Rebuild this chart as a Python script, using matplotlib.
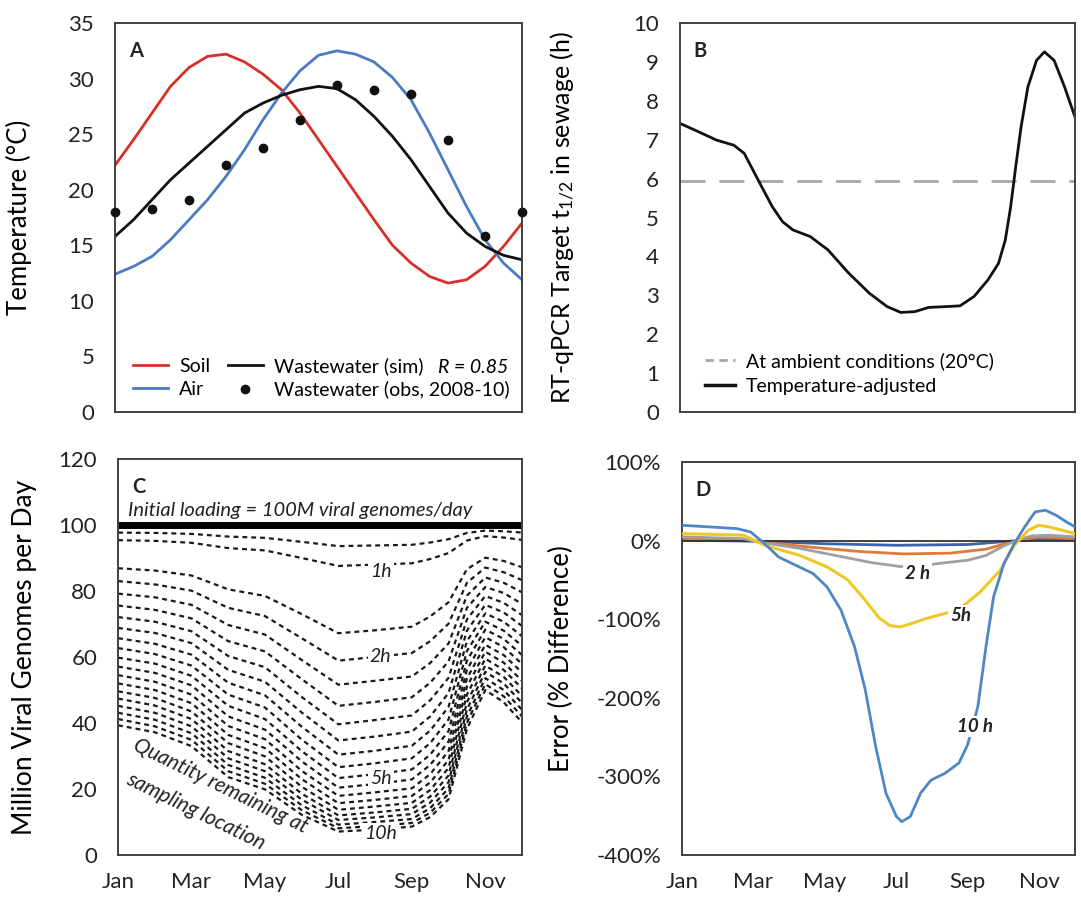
import numpy as np
import matplotlib
matplotlib.use("Agg")
import matplotlib.pyplot as plt
from matplotlib.lines import Line2D

plt.rcParams["font.family"] = ["Lato", "DejaVu Sans"]
plt.rcParams["mathtext.fontset"] = "custom"
plt.rcParams["mathtext.rm"] = "Lato"
plt.rcParams["mathtext.it"] = "Lato:italic"

month_labels = ["Jan", "Mar", "May", "Jul", "Sep", "Nov"]
month_ticks = [0, 2, 4, 6, 8, 10]

# ---- panel A: temperatures (deg C), half-month steps from Jan ----
a_months = np.arange(0, 11.01, 0.5)
soil = [22.2, 24.5, 26.9, 29.3, 31.0, 32.0, 32.2, 31.5, 30.4, 29.0, 26.9, 24.5,
        22.1, 19.7, 17.3, 15.0, 13.4, 12.2, 11.6, 11.9, 13.1, 14.9, 17.0]
air = [12.4, 13.1, 14.0, 15.5, 17.3, 19.1, 21.2, 23.6, 26.3, 28.7, 30.7, 32.1,
       32.5, 32.2, 31.5, 30.1, 28.1, 25.1, 21.8, 18.5, 15.5, 13.4, 11.9]
ww_sim = [15.8, 17.3, 19.1, 20.9, 22.4, 23.9, 25.4, 26.9, 27.8, 28.5, 29.0, 29.3,
          29.1, 28.1, 26.6, 24.8, 22.7, 20.3, 17.9, 16.1, 14.9, 14.1, 13.7]
obs_months = np.arange(0, 12)
ww_obs = [18.0, 18.3, 19.1, 22.2, 23.8, 26.3, 29.4, 29.0, 28.6, 24.5, 15.8, 18.0]

# ---- panel B: half-life (h) ----
b_months = [0, 0.53, 1.02, 1.5, 1.79, 2.18, 2.57, 2.86, 3.15, 3.63, 4.12, 4.7,
            5.28, 5.77, 6.15, 6.54, 6.93, 7.41, 7.8, 8.19, 8.58, 8.87, 9.06,
            9.21, 9.35, 9.5, 9.69, 9.93, 10.15, 10.42, 10.71, 11.0]
b_half = [7.42, 7.2, 6.99, 6.86, 6.65, 5.96, 5.28, 4.89, 4.68, 4.51, 4.17, 3.57,
          3.05, 2.71, 2.56, 2.58, 2.69, 2.71, 2.73, 2.97, 3.4, 3.82, 4.42,
          5.28, 6.3, 7.33, 8.36, 9.04, 9.26, 9.04, 8.36, 7.59]
b_ambient = 5.93

# ---- panel C: million genomes/day remaining, one row per travel time ----
c_months = [0, 1, 2, 3, 4, 5, 6, 7, 8, 8.5, 9, 9.5, 10, 10.5, 11]
c_curves = [
    [97.7, 97.6, 97.3, 96.5, 96.1, 94.9, 93.6, 93.8, 94.0, 94.7, 95.7, 97.6, 98.3, 98.1, 97.7],
    [95.4, 95.2, 94.6, 93.0, 92.3, 90.0, 87.6, 88.0, 88.4, 89.7, 91.5, 95.3, 96.6, 96.2, 95.5],
    [86.9, 86.2, 84.7, 80.5, 78.5, 73.0, 67.2, 68.1, 69.2, 72.3, 76.6, 86.6, 90.1, 89.1, 87.2],
    [83.0, 82.0, 80.1, 74.9, 72.4, 65.7, 58.9, 60.0, 61.2, 64.8, 70.1, 82.5, 87.1, 85.7, 83.3],
    [79.2, 78.1, 75.8, 69.7, 66.8, 59.1, 51.6, 52.8, 54.1, 58.2, 64.1, 78.6, 84.1, 82.5, 79.6],
    [75.6, 74.3, 71.7, 64.8, 61.7, 53.3, 45.2, 46.4, 47.8, 52.2, 58.7, 74.9, 81.2, 79.4, 76.1],
    [72.1, 70.7, 67.8, 60.3, 56.9, 47.9, 39.6, 40.9, 42.3, 46.9, 53.7, 71.4, 78.5, 76.4, 72.7],
    [68.8, 67.3, 64.2, 56.1, 52.5, 43.2, 34.7, 35.9, 37.4, 42.0, 49.1, 68.0, 75.8, 73.5, 69.4],
    [65.7, 64.0, 60.7, 52.2, 48.4, 38.9, 30.4, 31.6, 33.1, 37.7, 44.9, 64.8, 73.2, 70.7, 66.3],
    [62.7, 60.9, 57.4, 48.6, 44.7, 35.0, 26.6, 27.8, 29.3, 33.9, 41.1, 61.8, 70.7, 68.0, 63.4],
    [59.8, 58.0, 54.3, 45.2, 41.2, 31.5, 23.3, 24.5, 25.9, 30.4, 37.6, 58.9, 68.3, 65.5, 60.6],
    [57.1, 55.2, 51.4, 42.0, 38.0, 28.4, 20.4, 21.5, 22.9, 27.3, 34.4, 56.1, 66.0, 63.0, 57.9],
    [54.5, 52.5, 48.6, 39.1, 35.1, 25.5, 17.9, 19.0, 20.2, 24.5, 31.5, 53.5, 63.7, 60.6, 55.3],
    [52.0, 50.0, 46.0, 36.4, 32.4, 23.0, 15.7, 16.7, 17.9, 22.0, 28.8, 51.0, 61.6, 58.3, 52.8],
    [49.6, 47.6, 43.5, 33.9, 29.9, 20.7, 13.7, 14.7, 15.8, 19.7, 26.4, 48.6, 59.5, 56.1, 50.5],
    [47.4, 45.3, 41.2, 31.5, 27.5, 18.6, 12.0, 12.9, 14.0, 17.7, 24.1, 46.3, 57.4, 54.0, 48.2],
    [45.2, 43.1, 39.0, 29.3, 25.4, 16.8, 10.6, 11.4, 12.4, 15.9, 22.1, 44.1, 55.5, 52.0, 46.1],
    [43.1, 41.0, 36.9, 27.3, 23.4, 15.1, 9.2, 10.0, 10.9, 14.2, 20.2, 42.0, 53.6, 50.0, 44.0],
    [41.2, 39.0, 34.9, 25.4, 21.6, 13.6, 8.1, 8.8, 9.7, 12.8, 18.5, 40.1, 51.8, 48.1, 42.0],
    [39.3, 37.2, 33.0, 23.6, 19.9, 12.2, 7.1, 7.7, 8.6, 11.5, 16.9, 38.2, 50.0, 46.3, 40.2],
]
c_initial = 100

# ---- panel D: error (%) ----
d10_months = [0, 0.76, 1.53, 1.92, 2.31, 2.7, 3.28, 3.67, 4.06, 4.45, 4.83, 5.13,
              5.42, 5.71, 6.0, 6.15, 6.39, 6.68, 6.97, 7.36, 7.75, 7.99, 8.14,
              8.28, 8.52, 8.72, 9.01, 9.3, 9.59, 9.88, 10.17, 10.47, 10.76, 11.0]
d10 = [19.5, 17.4, 15.3, 11, -3.8, -20.8, -33.5, -42, -59, -88.6, -135, -190,
       -262, -321.6, -351, -357.6, -351, -321, -304.7, -296, -283, -260, -235,
       -211, -131, -71.6, -29, -3.8, 17.4, 36.4, 38.6, 32.2, 23.7, 17.4]
d5_months = [0, 1.73, 2.31, 3.28, 4.06, 4.64, 5.13, 5.51, 5.81, 6.1, 6.39, 6.78,
             7.17, 7.5, 7.9, 8.33, 8.91, 9.3, 9.69, 9.98, 10.27, 10.66, 11.0]
d5 = [8.9, 6.8, -6, -18.6, -33.5, -50, -76, -98, -108, -110, -106, -100,
      -95, -91, -82, -66, -37.7, -6, 13, 19.5, 17.4, 13, 8.9]
d2_months = [0, 1.7, 2.3, 3.3, 4.3, 5.3, 6.1, 6.6, 7.2, 8.0, 8.5, 9.0, 9.4,
             9.8, 10.3, 11.0]
d2 = [4.7, 2.5, -3, -10, -19, -28, -33, -33, -29, -25, -19, -7, 1, 6, 6.8, 4.7]
d1_months = [0, 1.7, 2.3, 3.5, 5.0, 6.2, 7.5, 8.5, 9.4, 10.0, 11.0]
d1 = [2.5, 1.3, -2, -8, -14, -17, -16, -11, 0.5, 4.5, 2.5]
d05_months = [0, 2.3, 4.0, 6.0, 8.0, 9.4, 10.0, 11.0]
d05 = [0.5, -1, -4, -6, -5, 0, 1.5, 1]

INK = "#404040"


def style_box(ax):
    for sp in ax.spines.values():
        sp.set_color(INK)
        sp.set_linewidth(1.4)
    ax.tick_params(length=0, labelsize=16, pad=15, colors="#222222")
    ax.set_xlim(0, 11)


def month_axis(ax, show):
    ax.set_xticks(month_ticks)
    if show:
        ax.set_xticklabels(month_labels)
        ax.tick_params(axis="x", pad=12)
    else:
        ax.set_xticklabels([])


def panel_letter(ax, letter):
    ax.text(0.035, 0.955, letter, transform=ax.transAxes, fontsize=14.5,
            fontweight="bold", va="top", ha="left", color="#222222")


def draw_a(ax):
    ax.plot(a_months, soil, color="#d7302a", lw=2)
    ax.plot(a_months, air, color="#4b7bc2", lw=2)
    ax.plot(a_months, ww_sim, color="#111111", lw=2)
    ax.scatter(obs_months, ww_obs, color="#111111", s=36, zorder=3, clip_on=False)
    ax.set_ylim(0, 35)
    ax.set_yticks(range(0, 36, 5))
    month_axis(ax, False)
    ax.set_ylabel("Temperature (°C)", fontsize=18.5)
    ax.yaxis.set_label_coords(-0.205, 0.5)
    handles = [
        Line2D([], [], color="#d7302a", lw=2, label="Soil"),
        Line2D([], [], color="#4b7bc2", lw=2, label="Air"),
        Line2D([], [], color="#111111", lw=2, label="Wastewater (sim)"),
        Line2D([], [], color="#111111", marker="o", ls="none", ms=6,
               label="Wastewater (obs, 2008-10)"),
    ]
    ax.legend(handles=handles, ncol=2, frameon=False, fontsize=14,
              loc="lower left", bbox_to_anchor=(0.0, -0.01), handlelength=1.8,
              columnspacing=0.9, labelspacing=0.3, handletextpad=0.6)
    ax.text(0.965, 0.115, "R = 0.85", transform=ax.transAxes, fontsize=14,
            fontstyle="italic", ha="right", va="center")
    panel_letter(ax, "A")


def draw_b(ax):
    ax.axhline(b_ambient, color="#a6a6a6", lw=2, dashes=(9, 5))
    ax.plot(b_months, b_half, color="#111111", lw=2)
    ax.set_ylim(0, 10)
    ax.set_yticks(range(0, 11))
    month_axis(ax, False)
    ax.set_ylabel("RT-qPCR Target t$_{\\mathregular{1/2}}$ in sewage (h)", fontsize=18)
    ax.yaxis.set_label_coords(-0.26, 0.5)
    handles = [
        Line2D([], [], color="#a6a6a6", lw=2, dashes=(3, 2), label="At ambient conditions (20°C)"),
        Line2D([], [], color="#111111", lw=2.5, label="Temperature-adjusted"),
    ]
    ax.legend(handles=handles, frameon=False, fontsize=14, loc="lower left",
              bbox_to_anchor=(0.02, 0.0), handlelength=1.5, labelspacing=0.4,
              handletextpad=0.6)
    panel_letter(ax, "B")


def draw_c(ax):
    ax.axhline(c_initial, color="black", lw=5)
    for curve in c_curves:
        ax.plot(c_months, curve, color="#1a1a1a", lw=1.6, dashes=(2.2, 1.8))
    ax.set_ylim(0, 120)
    ax.set_yticks(range(0, 121, 20))
    month_axis(ax, True)
    ax.set_ylabel("Million Viral Genomes per Day", fontsize=19)
    ax.yaxis.set_label_coords(-0.2, 0.5)
    ax.text(0.025, 104.5, "Initial loading = 100M viral genomes/day",
            transform=ax.get_yaxis_transform(), fontsize=14.5, fontstyle="italic",
            ha="left", va="center", color="#222222")
    box = dict(facecolor="white", edgecolor="none", pad=1.5)
    for lab, yv in [("1h", 86), ("2h", 60), ("5h", 23.3), ("10h", 6.6)]:
        ax.text(7.15, yv, lab, fontsize=14, fontstyle="italic", ha="center",
                va="center", bbox=box, color="#222222")
    ax.text(2.8, 21, "Quantity remaining at", fontsize=15, fontstyle="italic",
            rotation=-26, ha="center", va="center", color="#222222")
    ax.text(2.1, 13.1, "sampling location", fontsize=15, fontstyle="italic",
            rotation=-26, ha="center", va="center", color="#222222")
    panel_letter(ax, "C")


def draw_d(ax):
    ax.plot(d05_months, d05, color="#3d62ad", lw=2)
    ax.plot(d1_months, d1, color="#e07a3a", lw=2)
    ax.axhline(0, color="#333333", lw=1.3, zorder=2.5)
    ax.plot(d2_months, d2, color="#a0a0a0", lw=2, zorder=3)
    ax.plot(d5_months, d5, color="#efc828", lw=2.2, zorder=3)
    ax.plot(d10_months, d10, color="#4f86c6", lw=2, zorder=3)
    ax.set_ylim(-400, 100)
    ax.set_yticks(range(-400, 101, 100))
    ax.set_yticklabels([f"{v}%" for v in range(-400, 101, 100)])
    month_axis(ax, True)
    ax.set_ylabel("Error (% Difference)", fontsize=18.5)
    ax.yaxis.set_label_coords(-0.275, 0.5)
    box = dict(facecolor="white", edgecolor="none", pad=1.5)
    for lab, xv, yv in [("2 h", 6.6, -42), ("5h", 7.8, -95), ("10 h", 8.2, -237)]:
        ax.text(xv, yv, lab, fontsize=13.5, fontstyle="italic", fontweight="bold",
                ha="center", va="center", bbox=box, color="#222222", zorder=4)
    panel_letter(ax, "D")


def main():
    fig = plt.figure(figsize=(10.81, 9.0), dpi=100)
    ax_a = fig.add_axes([0.1064, 0.5422, 0.3765, 0.4322])
    ax_b = fig.add_axes([0.6290, 0.5422, 0.3654, 0.4322])
    ax_c = fig.add_axes([0.1092, 0.0500, 0.3737, 0.4400])
    ax_d = fig.add_axes([0.6309, 0.0500, 0.3636, 0.4367])
    for ax in (ax_a, ax_b, ax_c, ax_d):
        style_box(ax)
    draw_a(ax_a)
    draw_b(ax_b)
    draw_c(ax_c)
    draw_d(ax_d)
    fig.savefig("out.png", dpi=100, facecolor="white")


if __name__ == "__main__":
    main()
